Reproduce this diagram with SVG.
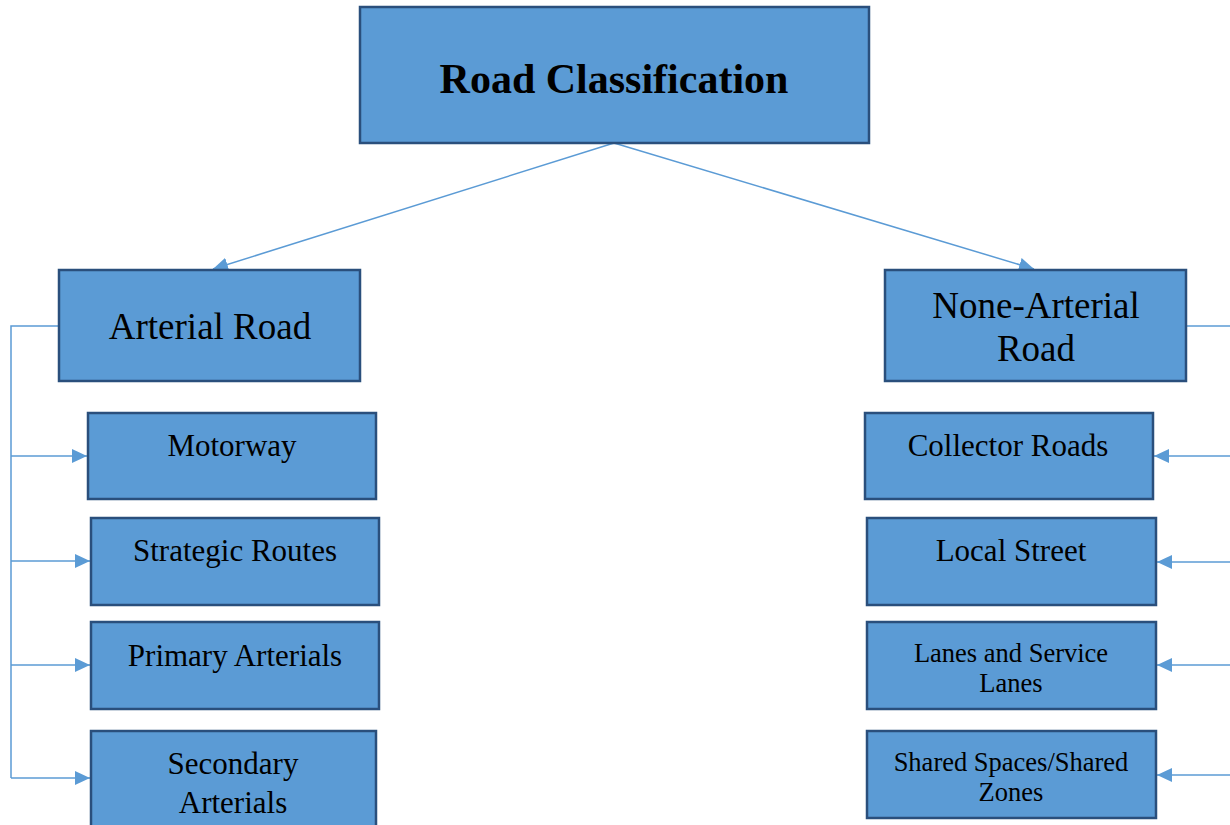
<svg xmlns="http://www.w3.org/2000/svg" width="1230" height="825" viewBox="0 0 1230 825">
  <style>
    .box { fill: #5B9BD5; stroke: #2A4F7C; stroke-width: 2.5; }
    .lbl { font-family: "Liberation Serif", "Times New Roman", serif; fill: #000; text-anchor: middle; }
    .title { font-size: 42px; font-weight: bold; }
    .big { font-size: 37px; }
    .mid { font-size: 31px; }
    .small { font-size: 26.5px; }
    .conn { fill: none; stroke: #5B9BD5; stroke-width: 1.5; }
  </style>
  <defs>
    <marker id="arrow" viewBox="0 0 10 10" refX="10" refY="5" markerWidth="15" markerHeight="14" markerUnits="userSpaceOnUse" orient="auto" preserveAspectRatio="none">
      <path d="M0,0 L10,5 L0,10 Z" fill="#5B9BD5"/>
    </marker>
  </defs>

  <g id="connectors">
    <line class="conn" x1="614" y1="143" x2="213" y2="269" marker-end="url(#arrow)"/>
    <line class="conn" x1="614" y1="143" x2="1034" y2="269" marker-end="url(#arrow)"/>
    <!-- left branch -->
    <polyline class="conn" points="59,326 11,326 11,778"/>
    <line class="conn" x1="11" y1="456" x2="87" y2="456" marker-end="url(#arrow)"/>
    <line class="conn" x1="11" y1="561" x2="90" y2="561" marker-end="url(#arrow)"/>
    <line class="conn" x1="11" y1="665" x2="90" y2="665" marker-end="url(#arrow)"/>
    <line class="conn" x1="11" y1="778" x2="90" y2="778" marker-end="url(#arrow)"/>
    <!-- right branch -->
    <line class="conn" x1="1186" y1="326" x2="1232" y2="326"/>
    <line class="conn" x1="1232" y1="456" x2="1154" y2="456" marker-end="url(#arrow)"/>
    <line class="conn" x1="1232" y1="562" x2="1157" y2="562" marker-end="url(#arrow)"/>
    <line class="conn" x1="1232" y1="665" x2="1157" y2="665" marker-end="url(#arrow)"/>
    <line class="conn" x1="1232" y1="775" x2="1157" y2="775" marker-end="url(#arrow)"/>
  </g>

  <g id="road-classification">
    <rect class="box" x="360" y="7" width="509" height="136"/>
    <text class="lbl title" x="614" y="93">Road Classification</text>
  </g>

  <g id="arterial-road">
    <rect class="box" x="59" y="270" width="301" height="111"/>
    <text class="lbl big" x="210" y="339">Arterial Road</text>
  </g>
  <g id="motorway">
    <rect class="box" x="88" y="413" width="288" height="86"/>
    <text class="lbl mid" x="232" y="456">Motorway</text>
  </g>
  <g id="strategic-routes">
    <rect class="box" x="91" y="518" width="288" height="87"/>
    <text class="lbl mid" x="235" y="561">Strategic Routes</text>
  </g>
  <g id="primary-arterials">
    <rect class="box" x="91" y="622" width="288" height="87"/>
    <text class="lbl mid" x="235" y="666">Primary Arterials</text>
  </g>
  <g id="secondary-arterials">
    <rect class="box" x="91" y="731" width="285" height="96"/>
    <text class="lbl mid" x="233" y="774">Secondary</text>
    <text class="lbl mid" x="233" y="813">Arterials</text>
  </g>

  <g id="none-arterial-road">
    <rect class="box" x="885" y="270" width="301" height="111"/>
    <text class="lbl big" x="1036" y="318">None-Arterial</text>
    <text class="lbl big" x="1036" y="361">Road</text>
  </g>
  <g id="collector-roads">
    <rect class="box" x="865" y="413" width="288" height="86"/>
    <text class="lbl mid" x="1008" y="456">Collector Roads</text>
  </g>
  <g id="local-street">
    <rect class="box" x="867" y="518" width="289" height="87"/>
    <text class="lbl mid" x="1011" y="561">Local Street</text>
  </g>
  <g id="lanes-service-lanes">
    <rect class="box" x="867" y="622" width="289" height="87"/>
    <text class="lbl small" x="1011" y="662">Lanes and Service</text>
    <text class="lbl small" x="1011" y="692">Lanes</text>
  </g>
  <g id="shared-spaces">
    <rect class="box" x="867" y="731" width="289" height="87"/>
    <text class="lbl small" x="1011" y="771">Shared Spaces/Shared</text>
    <text class="lbl small" x="1011" y="801">Zones</text>
  </g>
</svg>
